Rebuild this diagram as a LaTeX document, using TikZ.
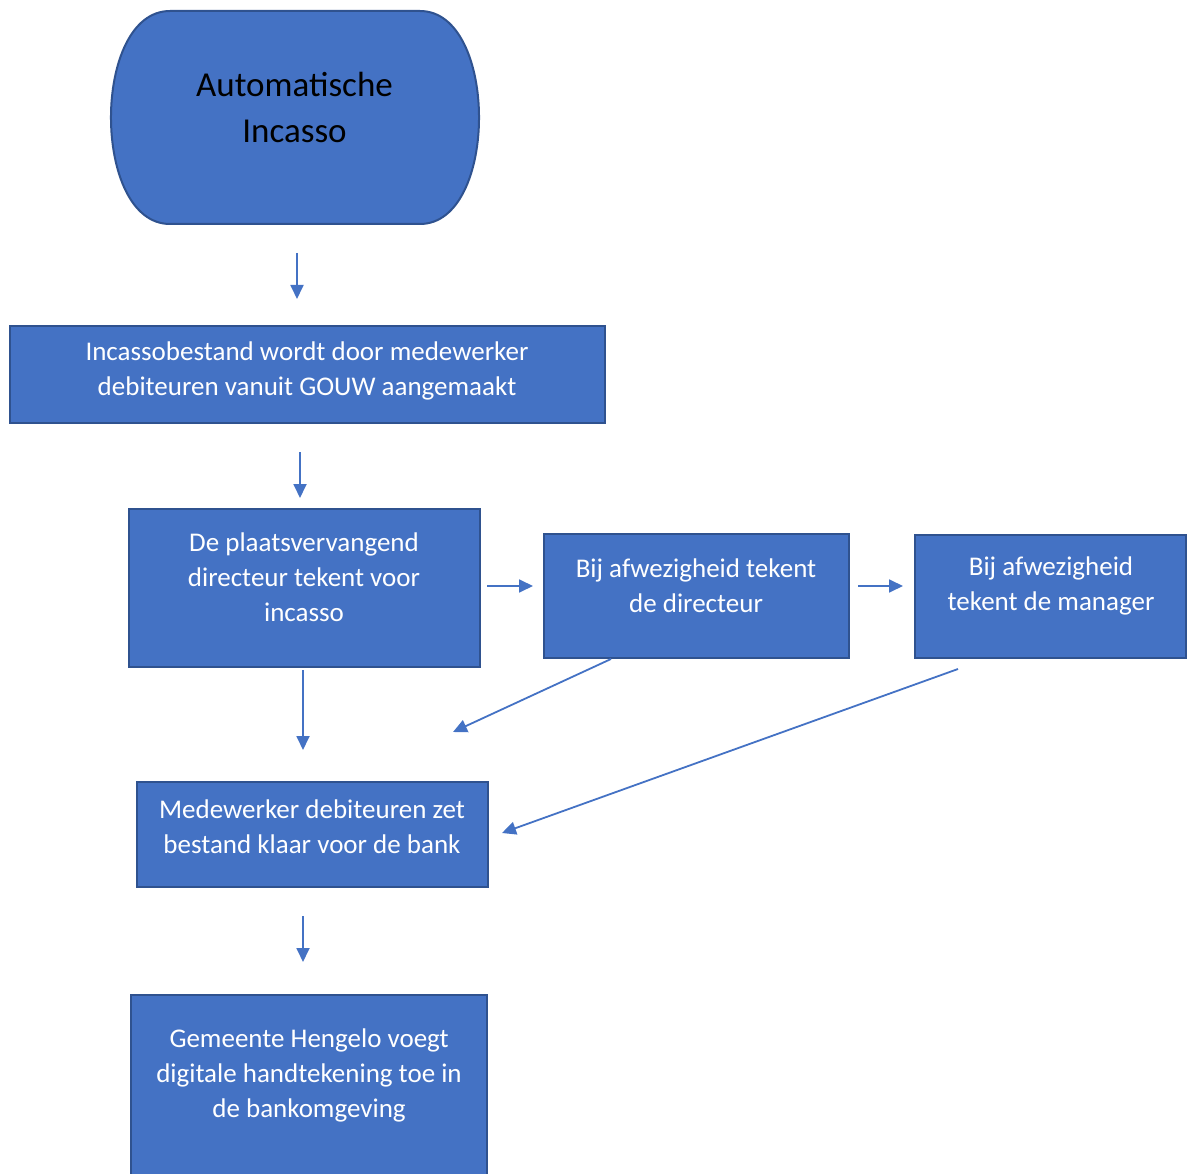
\documentclass[tikz,border=0pt]{standalone}
\usepackage{fontspec}
\setmainfont{Carlito}
\usetikzlibrary{arrows.meta}
\definecolor{boxblue}{HTML}{4472C4}
\definecolor{boxedge}{HTML}{2F528F}
\tikzset{
  blok/.style={draw=boxedge, fill=boxblue, line width=2pt, inner sep=0pt},
  tekst/.style={text=white, align=center, inner sep=0pt, font=\fontsize{27}{35}\selectfont},
  pijl/.style={draw=boxblue, line width=1.8pt, -{Triangle[length=14pt,width=13pt]}}
}

\begin{document}
\begin{tikzpicture}[x=1pt,y=-1pt]
\useasboundingbox (0,0) rectangle (1187,1174);

% start
\filldraw[fill=boxblue, draw=boxedge, line width=2pt] (170,11) -- (420,11)
  .. controls (498.7,11) and (498.7,224) .. (420,224) -- (170,224)
  .. controls (91.3,224) and (91.3,11) .. (170,11) -- cycle;
\node[align=center, inner sep=0pt, font=\fontsize{35}{46}\selectfont] (start) at (294.5,107) {Automatische\\Incasso};

% boxes
\node[blok, minimum width=595pt, minimum height=97pt] (aanmaak) at (307.5,374.5) {};
\node[tekst] (aanmaaktekst) at (307,370.5) {Incassobestand wordt door medewerker\\debiteuren vanuit GOUW aangemaakt};

\node[blok, minimum width=351pt, minimum height=158pt] (plv) at (304.5,588) {};
\node[tekst] (plvtekst) at (304,577) {De plaatsvervangend\\directeur tekent voor\\incasso};

\node[blok, minimum width=305pt, minimum height=124pt] (dir) at (696.5,596) {};
\node[tekst] (dirtekst) at (696,585.5) {Bij afwezigheid tekent\\de directeur};

\node[blok, minimum width=271pt, minimum height=123pt] (man) at (1050.5,596.5) {};
\node[tekst] (mantekst) at (1051,585.5) {Bij afwezigheid\\tekent de manager};

\node[blok, minimum width=351pt, minimum height=105pt] (klaar) at (312.5,834.5) {};
\node[tekst] (klaartekst) at (312,826.5) {Medewerker debiteuren zet\\bestand klaar voor de bank};

\node[blok, minimum width=356pt, minimum height=220pt] (bank) at (309,1105) {};
\node[tekst] (banktekst) at (309,1075) {Gemeente Hengelo voegt\\digitale handtekening toe in\\de bankomgeving};

% arrows
\coordinate (a1s) at (297,253);  \coordinate (a1e) at (297,299);
\coordinate (a2s) at (300,452);  \coordinate (a2e) at (300,498);
\coordinate (a3s) at (487,586);  \coordinate (a3e) at (533,586);
\coordinate (a4s) at (858,586);  \coordinate (a4e) at (903,586);
\coordinate (a5s) at (303,670);  \coordinate (a5e) at (303,750);
\coordinate (a6s) at (611,659);  \coordinate (a6e) at (453,732);
\coordinate (a7s) at (958,669);  \coordinate (a7e) at (502,833);
\coordinate (a8s) at (303,916);  \coordinate (a8e) at (303,962);
\foreach \i in {1,...,8}{
\draw[pijl] (a\i s) -- (a\i e);
}

\end{tikzpicture}
\end{document}
